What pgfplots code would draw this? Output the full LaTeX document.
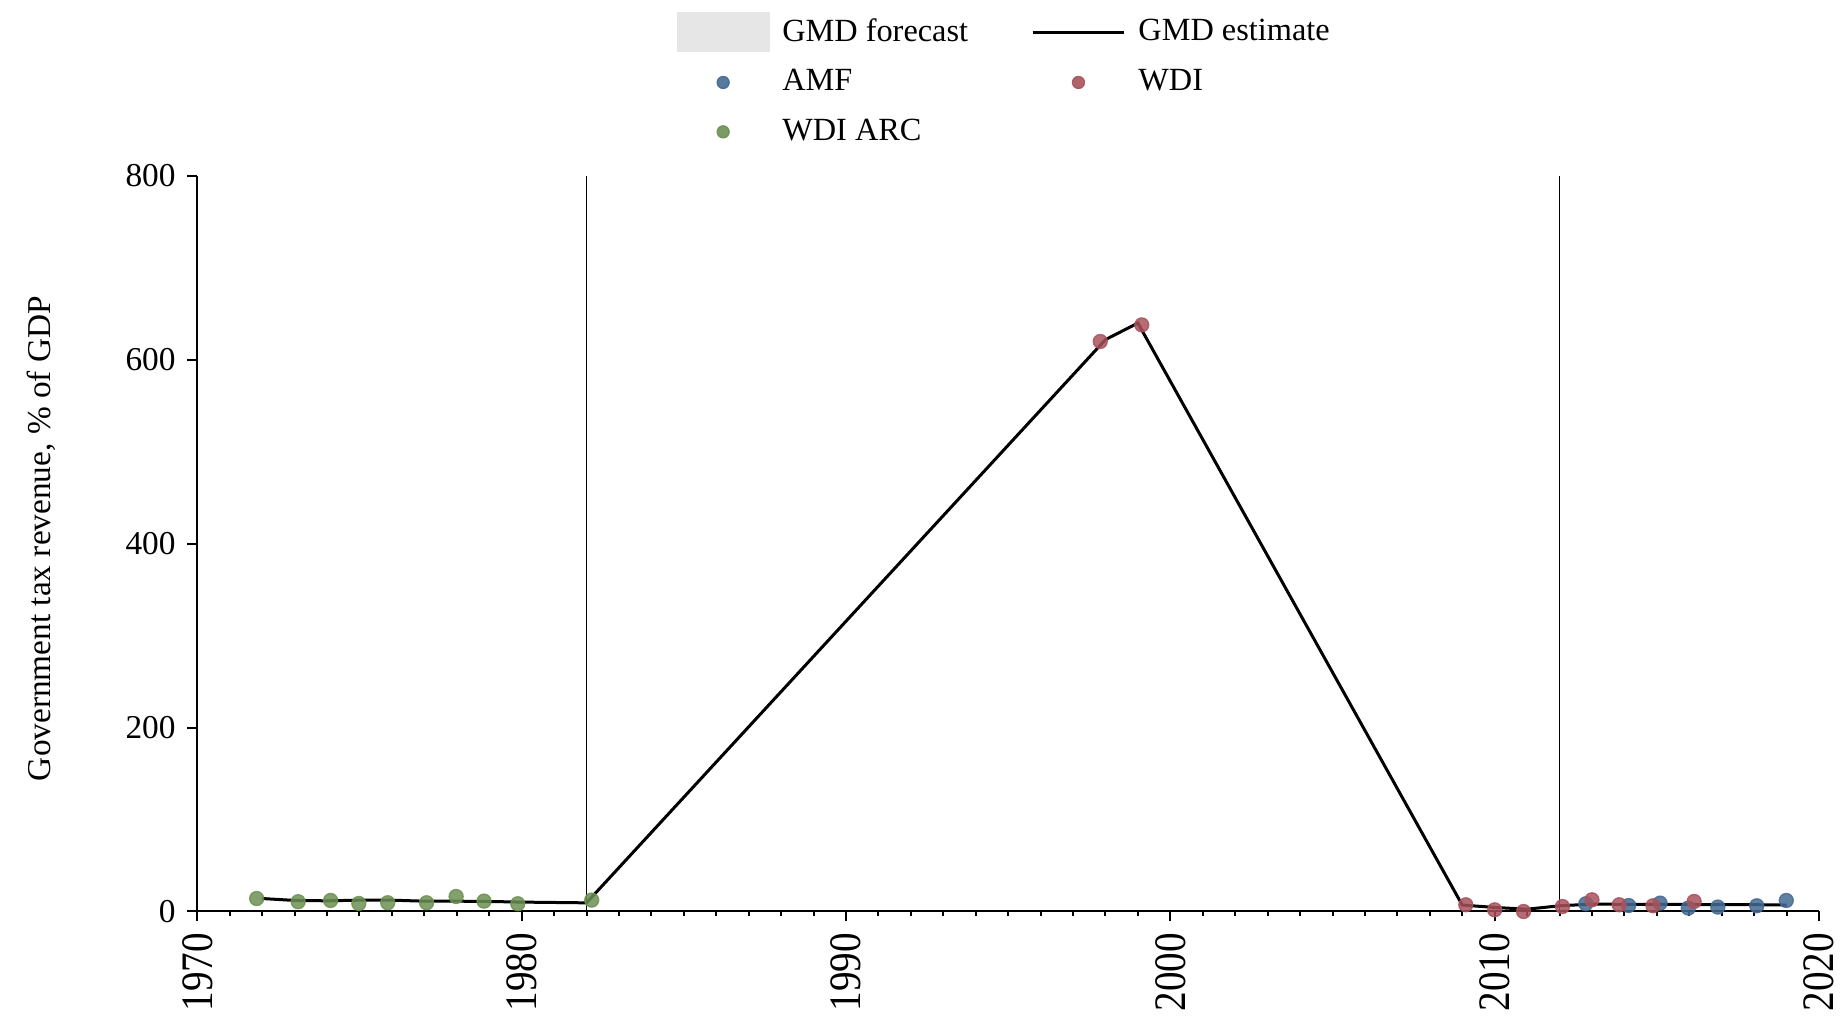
\documentclass[border=0pt]{standalone}
\usepackage{fontspec}
\setmainfont{Liberation Serif}
\usepackage{pgfplots}
\pgfplotsset{compat=1.18}
\definecolor{amf}{RGB}{68,106,146}
\definecolor{wdi}{RGB}{168,82,92}
\definecolor{arc}{RGB}{108,144,82}
\definecolor{fc}{RGB}{230,230,230}
\begin{document}
\begin{tikzpicture}
\begin{axis}[
  width=486.6pt, height=220.7pt, scale only axis,
  xmin=1970, xmax=2020, ymin=0, ymax=800,
  axis x line*=bottom, axis y line*=left,
  axis line style={line width=0.6pt, -},
  xtick={1970,1980,...,2020}, minor x tick num=9,
  ytick={0,200,...,800},
  tick align=outside, major tick length=3pt, minor tick length=1.4pt,
  tick style={black, line width=0.6pt},
  x tick label style={rotate=90, yscale=1.15, anchor=east, font=\fontsize{11.75}{14}\selectfont, /pgf/number format/1000 sep={}},
  /pgf/number format/assume math mode=true,
  font=\fontsize{10}{12}\selectfont,
  ylabel={Government tax revenue, \% of GDP},
  ylabel style={at={(axis description cs:-0.0964,0.507)}, anchor=center},
  clip=false,
  legend columns=2,
  legend cell align=left,
  legend style={draw=none, fill=none, at={(axis description cs:0.499,1.224)}, anchor=north,
    row sep=2.9pt, inner sep=0pt, font=\fontsize{9.7}{11}\selectfont,
    /tikz/every odd column/.append style={column sep=1.8pt},
    /tikz/every even column/.append style={column sep=16.9pt}},
]
\addlegendimage{legend image code/.code={\fill[fc] (0pt,-5.8pt) rectangle (27.5pt,5.8pt);}}
\addlegendentry{GMD forecast}
\addlegendimage{legend image code/.code={\path[draw=none,fill=none] (0pt,-5.8pt) rectangle (27.5pt,5.8pt); \draw[black, line width=0.9pt] (0pt,0pt) -- (27.5pt,0pt);}}
\addlegendentry{GMD estimate}
\addlegendimage{legend image code/.code={\path[draw=none,fill=none] (0pt,-5.8pt) rectangle (27.5pt,5.8pt); \fill[amf, opacity=0.9] (13.75pt,0pt) circle (1.8pt);}}
\addlegendentry{AMF}
\addlegendimage{legend image code/.code={\path[draw=none,fill=none] (0pt,-5.8pt) rectangle (27.5pt,5.8pt); \fill[wdi, opacity=0.9] (13.75pt,0pt) circle (1.8pt);}}
\addlegendentry{WDI}
\addlegendimage{legend image code/.code={\path[draw=none,fill=none] (0pt,-5.8pt) rectangle (27.5pt,5.8pt); \fill[arc, opacity=0.9] (13.75pt,0pt) circle (1.8pt);}}
\addlegendentry{WDI ARC}

\addplot[black, line width=0.55pt, forget plot] coordinates {(1982,0) (1982,800)};
\addplot[black, line width=0.55pt, forget plot] coordinates {(2012,0) (2012,800)};

\addplot[black, line width=0.9pt, forget plot] coordinates {
(1972,14.1)(1973,12)(1974,11.6)(1975,12.3)(1976,12.3)(1977,11.2)(1978,11.2)(1979,10.9)(1980,10.2)(1981,9.8)(1982,9.4)
(1998,622)(1999,640)(2009,7)(2010,4.4)(2011,2.5)(2012,6.2)(2013,8)(2014,7.8)(2015,7.8)(2016,7.6)(2017,7.5)(2018,7.4)(2019,7)};

\addplot[only marks, mark=*, mark size=2.1pt, color=amf, mark options={fill opacity=0.85, draw opacity=0.85}, forget plot] coordinates {
(2012.81,8.4)(2014.13,6.5)(2015.1,9.1)(2015.97,3.7)(2016.88,4.8)(2018.08,6.2)(2018.99,12)};
\addplot[only marks, mark=*, mark size=2.1pt, color=wdi, mark options={fill opacity=0.85, draw opacity=0.85}, forget plot] coordinates {
(1997.84,620)(1999.12,638)(2009.11,7.3)(2010.0,1.8)(2010.89,0)(2012.09,5.4)(2013.0,12.7)(2013.84,7.3)(2014.88,6.2)(2016.15,10.9)};
\addplot[only marks, mark=*, mark size=2.1pt, color=arc, mark options={fill opacity=0.85, draw opacity=0.85}, forget plot] coordinates {
(1971.83,14.1)(1973.11,10.6)(1974.11,12)(1974.98,8.7)(1975.87,9.5)(1977.07,9.5)(1977.98,16.3)(1978.84,11.3)(1979.88,8.4)(1982.16,12.4)};
\end{axis}
\pgfresetboundingbox
\path[use as bounding box] ([xshift=-59.2pt,yshift=-32.2pt]current axis.south west) rectangle ([xshift=6.9pt,yshift=52.8pt]current axis.north east);
\end{tikzpicture}
\end{document}
